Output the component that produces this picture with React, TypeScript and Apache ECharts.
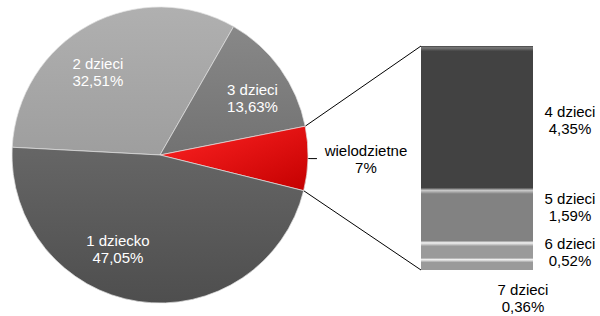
import React, { useEffect, useRef } from "react";
import * as echarts from "echarts";

// ---- data ----
const pieNames = ["2 dzieci", "3 dzieci", "wielodzietne", "1 dziecko"];
const pieValues = [32.51, 13.63, 7, 47.05];
const pieLabels = ["32,51%", "13,63%", "7%", "47,05%"];
const splitIndex = 2; // the slice that is broken out into the bar

const barNames = ["7 dzieci", "6 dzieci", "5 dzieci", "4 dzieci"];
const barValues = [0.36, 0.52, 1.59, 4.35];
const barLabels = ["0,36%", "0,52%", "1,59%", "4,35%"];

// ---- layout / style ----
const CX = 160;
const CY = 155;
const R = 148;
const START = 177;
const GRID = { left: 421, top: 46, width: 112, height: 224 };
const FONT = "Liberation Sans, Arial, sans-serif";
const FS = 15;
const LH = 17;

const vgrad = (a: string, b: string) =>
  new echarts.graphic.LinearGradient(0, 0, 0, 1, [
    { offset: 0, color: a },
    { offset: 1, color: b },
  ]);

const pieColors = [
  vgrad("#b0b0b0", "#9e9e9e"),
  vgrad("#888888", "#727272"),
  new echarts.graphic.LinearGradient(0, 0, 1, 1, [
    { offset: 0, color: "#ff2424" },
    { offset: 1, color: "#c40000" },
  ]),
  vgrad("#666666", "#4e4e4e"),
];

const barGrad = (base: string, hi: string, h: number) =>
  new echarts.graphic.LinearGradient(0, 0, 0, 1, [
    { offset: 0, color: base },
    { offset: Math.min(0.02 * h, 0.3), color: hi },
    { offset: Math.min(0.06 * h, 0.45), color: base },
    { offset: 1, color: base },
  ]);
const barColors = [
  barGrad("#9a9a9a", "#f4f4f4", 6),
  barGrad("#9a9a9a", "#f4f4f4", 5),
  barGrad("#828282", "#c8c8c8", 1.6),
  barGrad("#424242", "#7a7a7a", 0.6),
];

export default function App() {
  const ref = useRef<HTMLDivElement>(null);
  useEffect(() => {
    document.body.style.margin = "0";
    const chart = echarts.init(ref.current!, undefined, { renderer: "svg" });

    const total = pieValues.reduce((a, b) => a + b, 0);
    const before = pieValues.slice(0, splitIndex).reduce((a, b) => a + b, 0);
    const aTop = ((START - (before / total) * 360) * Math.PI) / 180;
    const aBot =
      ((START - ((before + pieValues[splitIndex]) / total) * 360) * Math.PI) / 180;
    const pTop = [CX + R * Math.cos(aTop), CY - R * Math.sin(aTop)];
    const pBot = [CX + R * Math.cos(aBot), CY - R * Math.sin(aBot)];

    const pieData = pieNames.map((n, i) => ({
      name: n,
      value: pieValues[i],
      itemStyle: { color: pieColors[i] },
      label:
        i === splitIndex
          ? {
              show: true,
              position: "outside",
              formatter: `{a|${n}}\n{a|${pieLabels[i]}}`,
              rich: {
                a: {
                  width: 88,
                  align: "center",
                  fontSize: FS,
                  lineHeight: LH,
                  color: "#000",
                  fontFamily: FONT,
                },
              },
            }
          : { show: false },
      labelLine: i === splitIndex ? { show: true } : { show: false },
    }));

    const overlayData = pieNames.map((n, i) => ({
      name: n,
      value: pieValues[i],
      label:
        i === splitIndex
          ? { show: false }
          : { show: true, formatter: `${n}\n${pieLabels[i]}` },
    }));

    const barSum = barValues.reduce((a, b) => a + b, 0);
    const barOffsets = [
      [46, -3],
      [0, 2],
      [0, -8],
      [0, 3],
    ];
    const barSeries = barNames.map((n, i) => {
      const isBottom = i === 0;
      return {
        type: "bar",
        stack: "s",
        barWidth: "100%",
        xAxisIndex: 0,
        yAxisIndex: 0,
        data: [barValues[i]],
        itemStyle: { color: barColors[i] },
        label: {
          show: true,
          position: isBottom ? "bottom" : "right",
          distance: isBottom ? 14 : 10,
          offset: barOffsets[i],
          formatter: `{a|${n}}\n{a|${barLabels[i]}}`,
          rich: {
            a: {
              width: 54,
              align: "center",
              fontSize: FS,
              lineHeight: LH,
              color: "#000",
              fontFamily: FONT,
            },
          },
        },
      };
    });

    chart.setOption({
      animation: false,
      textStyle: { fontFamily: FONT },
      grid: { ...GRID, containLabel: false },
      xAxis: { type: "category", data: ["x"], show: false },
      yAxis: { type: "value", min: 0, max: barSum, show: false },
      series: [
        {
          type: "pie",
          center: [CX, CY],
          radius: [0, R],
          startAngle: START,
          clockwise: true,
          avoidLabelOverlap: false,
          silent: true,
          itemStyle: { borderColor: "rgba(225,225,225,0.7)", borderWidth: 1 },
          labelLine: {
            length: 3,
            length2: 6,
            lineStyle: { color: "#000", width: 1 },
          },
          data: pieData,
        },
        {
          type: "pie",
          center: [CX, CY],
          radius: [64, R],
          startAngle: START,
          clockwise: true,
          avoidLabelOverlap: false,
          silent: true,
          itemStyle: { color: "rgba(0,0,0,0)" },
          label: {
            position: "inside",
            color: "#fff",
            fontSize: FS,
            lineHeight: LH,
            fontFamily: FONT,
          },
          labelLine: { show: false },
          labelLayout: (p: any) =>
            p.dataIndex === 3
              ? { dx: -26, dy: -14 }
              : p.dataIndex === 0
              ? { dx: -10, dy: 13 }
              : { dx: 4, dy: 7 },
          data: overlayData,
        },
        ...barSeries,
      ],
      graphic: [
        {
          type: "line",
          silent: true,
          shape: { x1: pTop[0], y1: pTop[1], x2: GRID.left, y2: GRID.top },
          style: { stroke: "#000", lineWidth: 1 },
        },
        {
          type: "line",
          silent: true,
          shape: {
            x1: pBot[0],
            y1: pBot[1],
            x2: GRID.left,
            y2: GRID.top + GRID.height,
          },
          style: { stroke: "#000", lineWidth: 1 },
        },
      ],
    });
    return () => chart.dispose();
  }, []);
  return <div ref={ref} style={{ width: 600, height: 316 }} />;
}
